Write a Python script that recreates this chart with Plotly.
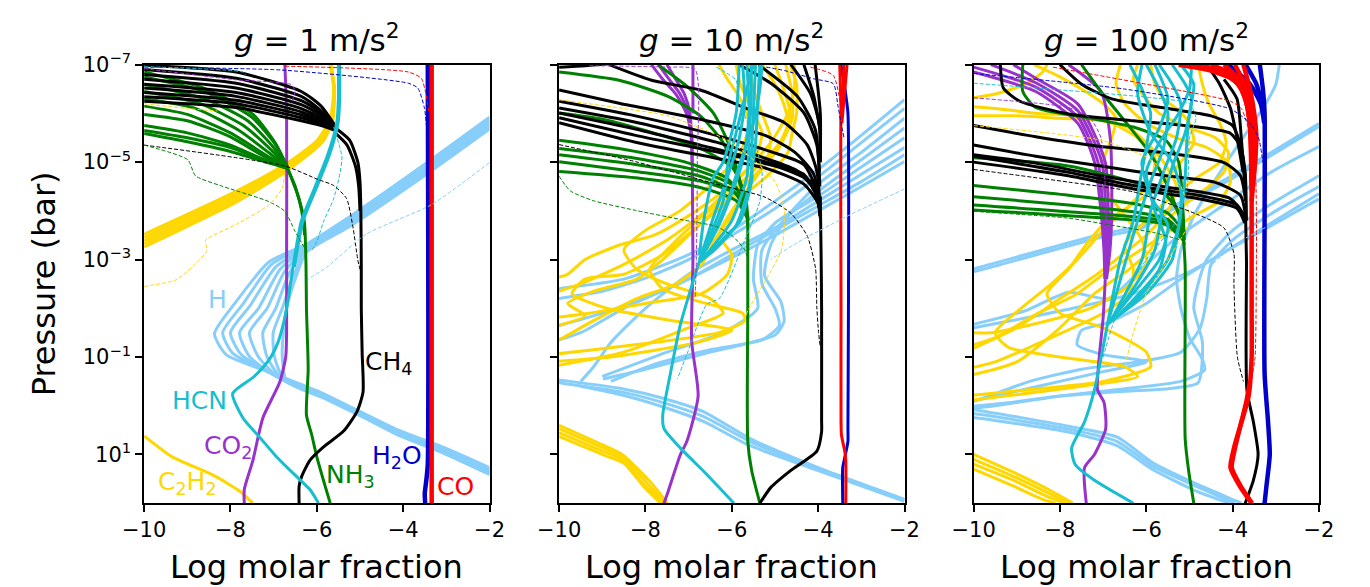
import plotly.graph_objects as go

# ---------------- axis / text data ----------------
PANEL_TITLES = ["<i>g</i> = 1 m/s<sup>2</sup>", "<i>g</i> = 10 m/s<sup>2</sup>", "<i>g</i> = 100 m/s<sup>2</sup>"]
X_TICKS = [-10, -8, -6, -4, -2]
X_TICK_LABELS = ["\u221210", "\u22128", "\u22126", "\u22124", "\u22122"]
Y_TICKS = [-7, -5, -3, -1, 1]
Y_TICK_LABELS = ["10<sup>\u22127</sup>", "10<sup>\u22125</sup>", "10<sup>\u22123</sup>", "10<sup>\u22121</sup>", "10<sup>1</sup>"]
X_LABEL = "Log molar fraction"
Y_LABEL = "Pressure (bar)"

# species labels in panel 1: (text, x, logP, species)
LABELS_G1 = [
    ("H", -8.30, -2.18, "H"),
    ("HCN", -8.72, -0.11, "HCN"),
    ("CO<sub>2</sub>", -8.06, 0.85, "CO2"),
    ("C<sub>2</sub>H<sub>2</sub>", -9.0, 1.59, "C2H2"),
    ("NH<sub>3</sub>", -5.23, 1.45, "NH3"),
    ("H<sub>2</sub>O", -4.14, 1.05, "H2O"),
    ("CO", -2.78, 1.65, "CO"),
    ("CH<sub>4</sub>", -4.33, -0.88, "CH4"),
]

# ---------------- g = 1 m/s2 : curves as (log molar fraction, log10 P[bar]) ----------------
G1_CO = [[(-3.34, -7.0), (-3.34, 2.0)]]
G1_H2O = [[(-3.43, -7.0), (-3.43, 1.2), (-3.46, 1.5), (-3.5, 1.8), (-3.49, 2.0)]]
G1_CH4 = [
    [(-10.0, -6.99), (-7.87, -6.85), (-6.36, -6.45), (-5.9, -6.15), (-5.6, -5.78)],
    [(-10.0, -6.9), (-7.87, -6.72), (-6.36, -6.35), (-5.9, -6.05), (-5.6, -5.76)],
    [(-10.0, -6.8), (-7.87, -6.62), (-6.36, -6.26), (-5.9, -6.0), (-5.6, -5.74)],
    [(-10.0, -6.7), (-7.87, -6.52), (-6.36, -6.18), (-5.9, -5.95), (-5.6, -5.72)],
    [(-10.0, -6.6), (-7.87, -6.43), (-6.36, -6.1), (-5.9, -5.9), (-5.6, -5.7)],
    [(-10.0, -6.52), (-7.87, -6.35), (-6.36, -6.03), (-5.9, -5.86), (-5.6, -5.7)],
    [(-10.0, -6.43), (-7.87, -6.27), (-6.36, -5.97), (-5.9, -5.82), (-5.6, -5.68)],
    [(-10.0, -6.34), (-7.87, -6.2), (-6.36, -5.91), (-5.9, -5.79), (-5.6, -5.68)],
    [(-10.0, -6.25), (-7.87, -6.12), (-6.36, -5.85), (-5.9, -5.75), (-5.6, -5.66)],
    [(-5.6, -5.62), (-5.3, -5.35), (-5.1, -4.9), (-5.03, -4.5), (-5.0, -4.0)],
    [(-5.6, -5.72), (-5.24, -5.45), (-5.05, -5.0), (-5.0, -4.6), (-4.98, -4.0), (-4.97, -2.85), (-4.97, -2.0),
     (-4.95, -1.08), (-4.93, -0.28), (-5.07, 0.12), (-5.38, 0.52), (-5.85, 0.85), (-6.16, 1.12),
     (-6.35, 1.45), (-6.41, 1.65), (-6.41, 2.0)],
]
G1_NH3 = [
    [(-10.0, -6.85), (-8.62, -6.52), (-7.49, -5.99), (-6.96, -5.39), (-6.7, -4.92)],
    [(-10.0, -6.75), (-8.6, -6.45), (-7.5, -5.92), (-6.95, -5.35), (-6.68, -4.9)],
    [(-10.0, -6.6), (-8.6, -6.3), (-7.6, -5.85), (-7.0, -5.3), (-6.68, -4.9)],
    [(-10.0, -6.45), (-8.7, -6.2), (-7.7, -5.75), (-7.0, -5.2), (-6.68, -4.9)],
    [(-10.0, -6.3), (-8.8, -6.1), (-7.8, -5.65), (-7.05, -5.15), (-6.7, -4.9)],
    [(-10.0, -6.15), (-9.0, -5.98), (-8.0, -5.6), (-7.1, -5.1), (-6.7, -4.9)],
    [(-10.0, -5.98), (-9.0, -5.85), (-8.0, -5.52), (-7.1, -5.05), (-6.7, -4.9)],
    [(-10.0, -5.75), (-9.0, -5.6), (-8.0, -5.35), (-7.1, -5.0), (-6.7, -4.88)],
    [(-10.0, -5.65), (-9.0, -5.5), (-8.0, -5.3), (-7.1, -5.0), (-6.7, -4.88)],
    [(-10.0, -5.59), (-9.0, -5.42), (-8.0, -5.22), (-7.1, -4.98), (-6.7, -4.88)],
    [(-6.7, -4.92), (-6.5, -4.5), (-6.35, -4.0), (-6.28, -3.5)],
    [(-6.7, -4.92), (-6.44, -4.32), (-6.29, -3.79), (-6.25, -2.85), (-6.24, -2.0), (-6.2, -0.75),
     (-6.24, 0.19), (-6.12, 0.59), (-6.0, 1.05), (-5.85, 1.52), (-5.69, 2.0)],
]
G1_HCN = [
    [(-5.50, -7.0), (-5.5, -6.3), (-5.54, -5.79), (-5.76, -5.12), (-6.06, -4.45), (-6.36, -3.79), (-6.55, -2.85),
     (-6.68, -2.1), (-6.77, -1.7), (-6.9, -1.3), (-7.1, -0.95), (-7.45, -0.6), (-7.95, -0.25), (-7.71, 0.25),
     (-7.32, 0.65), (-6.93, 1.05), (-6.39, 1.52), (-6.16, 1.72), (-5.96, 2.0)],
    [(-5.47, -7.0), (-5.47, -6.3), (-5.51, -5.79), (-5.72, -5.12), (-6.02, -4.45), (-6.32, -3.79), (-6.52, -2.85)],
]
G1_CO2 = [[(-6.74, -7.0), (-6.70, -6.0), (-6.70, -3.0), (-6.70, -1.5), (-6.72, -1.0), (-6.86, -0.48),
           (-7.25, 0.25), (-7.48, 1.12), (-7.68, 1.72), (-7.68, 2.0)]]
G1_C2H2 = [
    [(-10.0, -3.52), (-7.87, -4.4), (-6.74, -4.95), (-5.99, -5.45), (-5.69, -5.9), (-5.61, -6.5), (-5.69, -7.0)],
    [(-10.0, -3.455), (-7.87, -4.345), (-6.74, -4.91), (-5.96, -5.44), (-5.675, -5.89), (-5.6, -6.5), (-5.685, -7.0)],
    [(-10.0, -3.39), (-7.87, -4.29), (-6.74, -4.87), (-5.93, -5.43), (-5.66, -5.88), (-5.6, -6.5), (-5.68, -7.0)],
    [(-10.0, -3.325), (-7.87, -4.235), (-6.74, -4.83), (-5.9, -5.42), (-5.645, -5.87), (-5.595, -6.5), (-5.675, -7.0)],
    [(-10.0, -3.26), (-7.87, -4.18), (-6.74, -4.79), (-5.87, -5.41), (-5.63, -5.86), (-5.59, -6.5), (-5.67, -7.0)],
    [(-10.0, 0.62), (-9.35, 1.05), (-8.41, 1.42), (-7.79, 1.75), (-7.48, 2.0)],
]
G1_H = [
    [(-2.0, -5.92), (-3.51, -4.95), (-5.24, -3.88), (-6.24, -3.32), (-7.11, -2.95), (-7.9, -2.1), (-8.37, -1.48),
     (-8.1, -1.05), (-7.0, -0.66), (-6.0, -0.31), (-5.07, 0.09), (-4.14, 0.49), (-3.13, 0.83), (-2.0, 1.27)],
    [(-2.0, -5.88), (-3.51, -4.91), (-5.24, -3.85), (-6.24, -3.3), (-7.05, -2.9), (-7.7, -2.1), (-8.18, -1.5),
     (-7.95, -1.08), (-6.95, -0.62), (-5.97, -0.28), (-5.05, 0.11), (-4.13, 0.51), (-3.12, 0.86), (-2.0, 1.3)],
    [(-2.0, -5.85), (-3.51, -4.88), (-5.24, -3.82), (-6.24, -3.27), (-6.95, -2.85), (-7.55, -2.05), (-8.0, -1.5),
     (-7.75, -1.05), (-6.92, -0.6), (-5.95, -0.26), (-5.03, 0.13), (-4.12, 0.53), (-3.11, 0.88), (-2.0, 1.32)],
    [(-2.0, -5.81), (-3.51, -4.84), (-5.24, -3.79), (-6.24, -3.25), (-6.85, -2.8), (-7.35, -2.0), (-7.79, -1.5),
     (-7.55, -1.0), (-6.9, -0.58), (-5.93, -0.24), (-5.01, 0.15), (-4.11, 0.55), (-3.1, 0.9), (-2.0, 1.34)],
    [(-2.0, -5.78), (-3.51, -4.81), (-5.24, -3.76), (-6.24, -3.22), (-6.75, -2.75), (-7.15, -2.0), (-7.56, -1.5),
     (-7.35, -1.0), (-6.85, -0.56), (-5.9, -0.22), (-5.0, 0.17), (-4.1, 0.57), (-3.1, 0.92), (-2.0, 1.36)],
    [(-2.0, -5.74), (-3.51, -4.78), (-5.24, -3.73), (-6.24, -3.2), (-6.65, -2.7), (-6.95, -2.0), (-7.25, -1.5),
     (-7.15, -1.0), (-6.8, -0.54), (-5.88, -0.2), (-4.98, 0.19), (-4.09, 0.59), (-3.09, 0.94), (-2.0, 1.38)],
    [(-2.0, -5.71), (-3.51, -4.74), (-5.24, -3.7), (-6.24, -3.17), (-6.55, -2.65), (-6.8, -2.0), (-7.01, -1.5),
     (-6.98, -1.0), (-6.75, -0.52), (-5.86, -0.18), (-4.97, 0.21), (-4.08, 0.61), (-3.08, 0.96), (-2.0, 1.4)],
    [(-2.0, -5.68), (-3.51, -4.72), (-5.24, -3.68), (-6.24, -3.15), (-6.5, -2.6), (-6.7, -2.0), (-6.78, -1.45),
     (-6.8, -1.0), (-6.7, -0.5), (-5.85, -0.16), (-4.96, 0.22), (-4.07, 0.62), (-3.07, 0.97), (-2.0, 1.41)],
]
G1_DASH = {
    "CO": [[(-6.74, -6.97), (-3.88, -6.85), (-3.58, -6.72), (-3.47, -6.39), (-3.4, -6.0)]],
    "H2O": [[(-10.0, -6.95), (-6.81, -6.89), (-3.88, -6.62), (-3.66, -6.52), (-3.51, -6.12), (-3.45, -5.65)]],
    "CO2": [[(-10.0, -6.92), (-7.87, -6.69), (-6.59, -6.59), (-6.51, -6.45), (-6.6, -6.2)]],
    "HCN": [[(-10.0, -6.96), (-7.72, -6.85), (-7.64, -6.79)],
            [(-5.61, -5.72), (-5.42, -5.12), (-5.46, -4.79), (-5.61, -4.25), (-5.84, -3.79), (-5.99, -3.39), (-6.1, -3.2)]],
    "CH4": [[(-10.0, -5.35), (-6.74, -4.92), (-5.99, -4.65), (-5.61, -4.52), (-5.31, -4.25), (-5.16, -3.65),
             (-5.05, -2.99), (-5.0, -2.8)]],
    "NH3": [[(-10.0, -5.35), (-8.99, -5.05), (-8.81, -4.72), (-8.24, -4.52), (-7.11, -4.19), (-6.74, -3.99),
             (-6.51, -3.59), (-6.29, -3.25)]],
    "C2H2": [[(-10.0, -2.45), (-9.27, -2.58), (-8.88, -2.85), (-8.54, -3.19), (-8.58, -3.39), (-7.87, -3.72),
              (-7.11, -4.12), (-6.81, -4.45), (-6.74, -4.8)],
             [(-10.0, -6.2), (-9.0, -6.1), (-8.3, -6.05)]],
    "H": [[(-2.0, -4.99), (-3.36, -4.12), (-4.86, -3.52), (-5.76, -2.85), (-6.2, -2.6)]],
}

# ---------------- g = 10 m/s2 ----------------
G10_CO = [
    [(-3.40, -7.0), (-3.43, -6.5), (-3.47, -6.0), (-3.47, -2.0), (-3.47, 0.3), (-3.46, 0.6), (-3.38, 0.95),
     (-3.36, 1.13), (-3.36, 2.0)],
    [(-3.33, -7.0), (-3.38, -6.5), (-3.45, -5.8)],
    [(-3.5, -7.0), (-3.48, -6.4), (-3.46, -5.8)],
]
G10_H2O = [[(-3.47, -7.0), (-3.38, -6.5), (-3.31, -6.0), (-3.31, 0.5), (-3.31, 0.73), (-3.38, 1.05),
            (-3.43, 1.27), (-3.43, 2.0)]]
G10_CH4 = [
    [(-10.0, -6.95), (-9.4, -6.98), (-8.85, -7.02)],
    [(-8.84, -7.0), (-7.86, -6.68), (-6.73, -6.48), (-5.6, -6.08), (-4.78, -5.81), (-4.25, -5.35), (-4.03, -4.81), (-3.95, -4.01)],
    [(-10.0, -6.48), (-8.61, -6.21), (-6.73, -5.88), (-5.23, -5.55), (-4.55, -5.21), (-4.1, -4.75), (-3.96, -4.0)],
    [(-10.0, -6.25), (-8.23, -5.95), (-6.36, -5.55), (-5.08, -5.21), (-4.33, -4.95), (-4.03, -4.41), (-3.95, -3.9)],
    [(-10.0, -6.11), (-8.23, -5.82), (-6.36, -5.41), (-5.23, -5.08), (-4.48, -4.82), (-4.03, -4.35), (-3.95, -3.9)],
    [(-10.0, -6.01), (-8.23, -5.68), (-6.73, -5.35), (-5.23, -5.01), (-4.33, -4.75), (-4.03, -4.28), (-3.95, -3.9)],
    [(-10.0, -5.91), (-8.23, -5.55), (-6.36, -5.21), (-4.85, -4.88), (-4.1, -4.55), (-3.95, -3.9)],
    [(-10.0, -5.81), (-8.23, -5.41), (-6.36, -5.08), (-5.23, -4.88), (-4.33, -4.55), (-4.0, -4.15), (-3.95, -3.85)],
    [(-5.83, -7.0), (-5.08, -6.61), (-4.33, -6.01), (-4.03, -5.35), (-3.96, -4.5)],
    [(-5.38, -7.0), (-4.48, -6.35), (-4.07, -5.68), (-3.97, -4.8)],
    [(-4.63, -7.0), (-4.18, -6.41), (-3.98, -5.81), (-3.95, -5.0)],
    [(-4.33, -7.0), (-4.1, -6.35), (-3.96, -5.68)],
    [(-4.07, -7.0), (-3.95, -6.0), (-3.95, -5.0)],
    [(-3.95, -4.3), (-3.93, -3.0), (-3.92, -2.0), (-3.92, 0.3), (-3.92, 0.53), (-4.03, 0.93), (-4.64, 1.33),
     (-5.09, 1.67), (-5.35, 2.0)],
]
G10_NH3 = [
    [(-10.0, -6.85), (-8.61, -6.68), (-7.48, -6.35), (-6.73, -5.95), (-6.21, -5.41), (-5.91, -4.81), (-5.68, -4.15), (-5.63, -3.68)],
    [(-7.71, -7.0), (-7.03, -6.55), (-6.43, -6.01), (-6.06, -5.35), (-5.79, -4.55), (-5.64, -3.9)],
    [(-10.0, -6.01), (-8.99, -5.88), (-7.86, -5.61), (-6.73, -5.28), (-5.98, -4.88), (-5.68, -4.28), (-5.63, -3.8)],
    [(-10.0, -5.45), (-8.61, -5.28), (-7.11, -5.01), (-6.13, -4.68), (-5.7, -4.2), (-5.63, -3.8)],
    [(-10.0, -5.28), (-8.23, -5.08), (-6.73, -4.81), (-5.9, -4.48), (-5.64, -3.9)],
    [(-10.0, -5.15), (-8.23, -4.95), (-6.73, -4.71), (-5.95, -4.4), (-5.64, -3.9)],
    [(-10.0, -5.01), (-8.23, -4.81), (-6.73, -4.61), (-5.9, -4.35), (-5.64, -3.9)],
    [(-10.0, -4.81), (-8.23, -4.68), (-6.73, -4.48), (-5.9, -4.21), (-5.64, -3.85)],
    [(-5.63, -3.9), (-5.63, -3.0), (-5.63, -2.0), (-5.63, 0.73), (-5.54, 1.33), (-5.35, 2.0)],
]
G10_CO2 = [
    [(-7.86, -7.0), (-7.6, -6.7), (-7.3, -6.4), (-7.05, -6.0), (-6.95, -5.6), (-6.92, -5.0)],
    [(-7.7, -7.0), (-7.45, -6.7), (-7.2, -6.4), (-7.0, -6.0), (-6.93, -5.5)],
    [(-7.5, -7.0), (-7.3, -6.7), (-7.1, -6.4), (-6.97, -6.0), (-6.93, -5.5)],
    [(-6.9, -7.0), (-6.9, -6.0)],
    [(-6.92, -5.5), (-6.9, -3.0), (-6.93, -1.33), (-6.78, -0.2), (-7.04, 0.73), (-7.19, 1.0), (-7.49, 1.8), (-7.57, 2.0)],
]
G10_HCN = [
    [(-5.83, -7.0), (-5.9, -6.0), (-6.2, -5.0), (-6.43, -4.68), (-6.65, -3.8), (-6.75, -3.1)],
    [(-5.75, -7.0), (-5.7, -6.2), (-5.85, -5.4), (-6.1, -4.7), (-6.45, -3.8), (-6.72, -3.05)],
    [(-5.65, -7.0), (-5.6, -6.0), (-5.7, -5.2), (-5.9, -4.6), (-6.3, -3.7), (-6.7, -3.05)],
    [(-5.55, -7.0), (-5.55, -6.3), (-5.6, -5.5), (-5.65, -4.7), (-6.0, -3.8), (-6.5, -3.2), (-6.75, -2.95)],
    [(-5.45, -7.0), (-5.5, -6.0), (-5.55, -5.0), (-5.53, -4.68), (-5.8, -3.8), (-6.28, -3.35), (-6.72, -3.0)],
    [(-5.35, -7.0), (-5.4, -6.2), (-5.45, -5.4), (-5.6, -4.5), (-5.9, -3.7), (-6.4, -3.2), (-6.75, -2.95)],
    [(-5.3, -7.0), (-5.35, -6.5), (-5.5, -5.8), (-5.8, -5.0), (-6.1, -4.2), (-6.55, -3.3), (-6.76, -3.0)],
    [(-5.5, -7.0), (-5.65, -6.5), (-5.9, -5.6), (-6.1, -4.9), (-6.2, -4.2), (-6.55, -3.4), (-6.75, -3.0)],
    [(-6.74, -3.0), (-7.19, -1.67), (-7.42, -0.67), (-7.6, 0.2), (-7.57, 0.47), (-7.19, 0.87), (-6.59, 1.4), (-5.95, 2.0)],
]
G10_C2H2 = [
    [(-4.55, -7.0), (-4.55, -6.5), (-4.7, -6.0), (-5.1, -5.4), (-5.8, -4.7), (-6.6, -4.0), (-7.5, -3.4), (-8.5, -2.9), (-9.5, -2.5), (-10.2, -2.3)],
    [(-4.75, -7.0), (-4.6, -6.4), (-4.6, -5.9), (-4.9, -5.3), (-5.5, -4.7), (-6.3, -4.1), (-7.0, -3.5), (-7.6, -3.0),
     (-8.2, -2.6), (-9.2, -2.35), (-9.8, -2.1), (-9.4, -1.85), (-10.2, -1.6)],
    [(-5.0, -7.0), (-4.8, -6.5), (-4.65, -6.0), (-4.8, -5.5), (-5.3, -5.0), (-6.0, -4.4), (-6.8, -3.8), (-7.5, -3.2),
     (-7.9, -2.8), (-7.6, -2.4), (-6.6, -2.1), (-5.75, -1.9), (-5.69, -1.75), (-6.3, -1.5), (-7.8, -1.3), (-9.2, -1.15), (-10.2, -1.05)],
    [(-5.3, -7.0), (-5.0, -6.6), (-4.8, -6.2), (-4.7, -5.8), (-5.0, -5.2), (-5.6, -4.6), (-6.2, -4.1), (-6.9, -3.6),
     (-7.6, -3.1), (-8.5, -2.7), (-9.4, -2.6), (-9.7, -2.3), (-8.9, -2.0), (-7.4, -1.75), (-6.0, -1.55), (-6.8, -1.3), (-8.8, -1.0), (-10.2, -0.9)],
    [(-5.6, -7.0), (-5.5, -6.5), (-5.3, -6.0), (-5.1, -5.5), (-5.2, -5.0), (-5.6, -4.5), (-6.0, -4.0), (-6.3, -3.5),
     (-6.0, -3.1), (-6.1, -2.7), (-6.7, -2.3), (-8.0, -2.1), (-9.3, -1.9), (-10.2, -1.8)],
    [(-5.9, -7.0), (-5.8, -6.6), (-5.55, -6.1), (-5.3, -5.6), (-5.5, -5.0), (-6.2, -4.4), (-7.0, -3.9), (-7.8, -3.5),
     (-8.6, -3.3), (-9.4, -3.0), (-9.8, -2.7), (-10.2, -2.6)],
    [(-4.65, -7.0), (-4.5, -6.6), (-4.5, -6.0), (-4.6, -5.6), (-4.7, -5.2), (-5.2, -4.7), (-5.6, -4.4), (-6.0, -3.9),
     (-6.4, -3.4), (-6.7, -2.9), (-7.3, -2.5), (-8.2, -2.2), (-9.3, -1.7), (-9.9, -1.4), (-10.2, -1.3)],
    [(-6.3, -7.0), (-6.1, -6.7), (-5.8, -6.3), (-5.6, -5.8), (-5.8, -5.2), (-6.4, -4.6), (-7.2, -4.0), (-8.0, -3.6),
     (-8.5, -3.2), (-8.2, -2.8), (-7.5, -2.5), (-6.5, -2.2), (-6.2, -1.9), (-7.0, -1.6), (-8.5, -1.1), (-10.2, -0.8)],
    [(-10.0, 0.40), (-9.0, 0.80), (-8.54, 1.0), (-7.9, 1.55), (-7.49, 2.0)],
    [(-10.0, 0.47), (-9.0, 0.86), (-8.54, 1.05), (-7.95, 1.6), (-7.55, 2.0)],
    [(-10.0, 0.55), (-9.0, 0.93), (-8.54, 1.11), (-8.0, 1.65), (-7.6, 2.0)],
    [(-10.0, 0.63), (-9.0, 1.0), (-8.5, 1.18), (-8.0, 1.7), (-7.65, 2.0)],
]
G10_H = [
    [(-2.0, -6.28), (-3.0, -5.55), (-4.0, -4.85), (-5.0, -4.2), (-6.0, -3.6), (-7.0, -3.1), (-8.5, -2.6), (-10.0, -2.4), (-10.6, -2.3)],
    [(-2.0, -6.1), (-3.0, -5.4), (-4.0, -4.7), (-5.0, -4.05), (-6.0, -3.5), (-7.0, -3.0), (-8.0, -2.62), (-9.0, -2.35), (-10.0, -2.2), (-10.6, -2.1)],
    [(-2.0, -5.9), (-3.0, -5.2), (-4.0, -4.55), (-4.7, -3.9), (-5.1, -3.3), (-5.24, -2.67), (-4.86, -2.13),
     (-4.79, -1.73), (-5.0, -1.45), (-6.5, -1.1), (-8.0, -0.75), (-8.98, -0.55)],
    [(-2.0, -5.7), (-3.0, -5.05), (-4.0, -4.4), (-4.8, -3.8), (-5.3, -3.2), (-5.3, -2.5), (-5.0, -2.0), (-4.9, -1.65),
     (-5.3, -1.35), (-6.5, -1.15), (-7.8, -0.85), (-8.8, -0.5)],
    [(-2.0, -5.5), (-3.0, -4.9), (-4.0, -4.3), (-5.0, -3.75), (-5.4, -3.3), (-5.5, -2.6), (-5.4, -2.0), (-6.2, -1.5),
     (-7.5, -1.1), (-9.0, -0.6)],
    [(-2.0, -5.3), (-3.0, -4.75), (-4.0, -4.2), (-5.0, -3.65), (-6.0, -3.2), (-7.0, -2.7), (-8.0, -2.0), (-8.8, -1.3),
     (-9.2, -0.8), (-9.5, -0.5)],
    [(-2.0, -5.15), (-3.0, -4.6), (-4.0, -4.1), (-5.0, -3.6), (-6.0, -3.1), (-7.0, -2.6), (-8.5, -2.0), (-9.5, -1.5), (-10.6, -1.2)],
    [(-2.0, -5.01), (-3.0, -4.5), (-4.0, -4.0), (-5.0, -3.5), (-6.2, -2.95), (-7.5, -2.4), (-9.0, -1.9), (-10.6, -1.5)],
    [(-10.6, -0.6), (-10.0, -0.53), (-8.54, -0.35), (-7.57, -0.15), (-6.66, 0.12), (-5.54, 0.69), (-4.03, 1.26), (-2.0, 1.92)],
    [(-10.6, -0.54), (-10.0, -0.47), (-8.54, -0.28), (-7.57, -0.06), (-6.66, 0.22), (-5.54, 0.75), (-4.03, 1.29), (-2.0, 1.94)],
    [(-9.5, -0.4), (-8.54, -0.22), (-7.57, 0.03), (-6.66, 0.32), (-5.6, 0.81), (-4.03, 1.32), (-2.0, 1.96)],
]
G10_DASH = {
    "CO": [[(-4.18, -6.95), (-3.65, -6.78), (-3.5, -6.28), (-3.46, -5.8)]],
    "H2O": [[(-5.2, -6.95), (-4.78, -6.88), (-4.1, -6.71), (-3.65, -6.61), (-3.54, -6.15), (-3.46, -5.75), (-3.4, -5.5)]],
    "CO2": [[(-9.3, -6.98), (-7.5, -6.95), (-6.85, -6.9), (-6.8, -5.0), (-6.82, -3.0), (-6.85, -2.2)]],
    "HCN": [[(-6.36, -6.95), (-5.9, -6.68), (-5.85, -6.3), (-5.5, -5.5), (-5.3, -4.81), (-5.35, -4.2), (-5.7, -3.4),
             (-6.28, -2.21), (-6.58, -2.08), (-7.03, -1.08), (-7.26, -0.55)]],
    "CH4": [[(-10.0, -5.36), (-8.23, -5.01), (-6.36, -4.55), (-5.23, -4.28), (-4.63, -3.95), (-4.25, -3.48),
             (-4.06, -2.81), (-4.03, -2.01), (-3.99, -1.5), (-3.95, -1.2)]],
    "NH3": [[(-10.0, -4.71), (-9.74, -4.41), (-9.21, -4.21), (-8.23, -4.01), (-7.11, -3.81), (-6.36, -3.68),
             (-5.98, -3.48), (-5.7, -3.2), (-5.63, -3.0)]],
    "C2H2": [[(-10.0, -6.28), (-8.5, -6.1), (-7.48, -5.95), (-6.0, -5.4), (-5.0, -4.6), (-4.78, -4.0),
              (-4.85, -3.2), (-5.2, -2.6), (-5.6, -2.0), (-5.75, -1.7)]],
    "H": [[(-2.0, -4.45), (-3.35, -3.88), (-4.48, -3.35), (-5.1, -3.0)]],
}

# ---------------- g = 100 m/s2 ----------------
G100_H2O = [
    [(-3.37, -7.0), (-3.3, -6.5), (-3.26, -6.0), (-3.26, -0.67), (-3.18, 0.33), (-3.14, 1.0), (-3.22, 1.67), (-3.26, 2.0)],
    [(-4.1, -7.0), (-3.6, -6.6), (-3.35, -6.2), (-3.27, -5.8)],
    [(-3.7, -7.0), (-3.45, -6.6), (-3.3, -6.1)],
]
G100_CO = [
    [(-5.25, -7.0), (-4.6, -6.9), (-4.1, -6.75), (-3.87, -6.6), (-3.7, -6.3), (-3.6, -5.8), (-3.58, -5.3), (-3.56, -4.5)],
    [(-5.0, -7.0), (-4.4, -6.88), (-4.0, -6.7), (-3.8, -6.5), (-3.65, -6.1), (-3.58, -5.5), (-3.56, -4.6)],
    [(-4.8, -7.0), (-4.2, -6.85), (-3.9, -6.65), (-3.72, -6.35), (-3.62, -5.9), (-3.57, -5.35), (-3.56, -4.6)],
    [(-4.5, -7.0), (-4.0, -6.8), (-3.8, -6.55), (-3.65, -6.2), (-3.55, -5.6), (-3.55, -5.0), (-3.56, -4.5)],
    [(-4.2, -7.0), (-3.85, -6.7), (-3.68, -6.4), (-3.55, -5.9), (-3.5, -5.4), (-3.54, -4.8), (-3.56, -4.4)],
    [(-3.95, -7.0), (-3.72, -6.6), (-3.58, -6.2), (-3.48, -5.7), (-3.48, -5.0), (-3.55, -4.5)],
    [(-3.75, -7.0), (-3.6, -6.5), (-3.5, -6.0), (-3.45, -5.5), (-3.5, -4.8), (-3.56, -4.2)],
    [(-3.56, -4.5), (-3.56, -2.0), (-3.56, -1.0), (-3.63, -0.2), (-3.97, 0.87), (-4.05, 1.27), (-3.82, 1.67), (-3.56, 2.0)],
    [(-3.6, -0.5), (-3.68, -0.1), (-3.94, 0.85), (-4.02, 1.27), (-3.8, 1.67), (-3.55, 2.0)],
]
G100_CH4 = [
    [(-9.38, -7.0), (-9.31, -6.52), (-8.93, -6.25), (-7.8, -5.99), (-6.3, -5.85), (-4.8, -5.72), (-4.05, -5.59),
     (-3.82, -5.32), (-3.71, -4.79), (-3.68, -3.8)],
    [(-8.0, -7.0), (-7.5, -6.6), (-6.8, -6.3), (-5.5, -6.1), (-4.5, -5.95), (-4.0, -5.75), (-3.8, -5.3), (-3.7, -4.6)],
    [(-10.0, -5.75), (-8.56, -5.52), (-7.05, -5.32), (-5.55, -5.19), (-4.2, -4.99), (-3.82, -4.72), (-3.7, -4.2)],
    [(-10.0, -5.35), (-8.56, -5.12), (-7.05, -4.92), (-5.55, -4.72), (-4.42, -4.59), (-3.82, -4.32), (-3.7, -3.9)],
    [(-10.0, -5.15), (-8.56, -4.98), (-7.05, -4.72), (-5.55, -4.49), (-4.05, -4.25), (-3.72, -3.9)],
    [(-10.0, -5.12), (-7.8, -4.79), (-6.3, -4.52), (-4.8, -4.32), (-3.9, -4.12), (-3.72, -3.8)],
    [(-10.0, -5.0), (-7.8, -4.72), (-6.3, -4.45), (-4.8, -4.25), (-3.9, -4.05), (-3.72, -3.75)],
    [(-4.2, -6.7), (-3.9, -6.3), (-3.8, -5.5), (-3.72, -4.5)],
    [(-4.6, -7.0), (-4.3, -6.6), (-4.05, -6.1), (-3.9, -5.5), (-3.76, -4.8)],
    [(-3.7, -3.9), (-3.68, -3.0), (-3.67, -0.33), (-3.52, 0.33), (-3.41, 1.0), (-3.52, 1.53), (-3.71, 2.0)],
]
G100_NH3 = [
    [(-8.86, -7.0), (-8.86, -6.45), (-8.56, -6.12), (-7.43, -5.92), (-6.3, -5.72), (-5.55, -5.45), (-5.25, -5.0),
     (-5.15, -4.0), (-5.12, -3.4)],
    [(-7.5, -7.0), (-7.05, -6.45), (-6.45, -5.79), (-5.92, -5.19), (-5.55, -4.59), (-5.25, -3.92), (-5.12, -3.3)],
    [(-10.0, -5.09), (-7.8, -4.92), (-6.3, -4.59), (-5.55, -4.32), (-5.2, -3.9), (-5.12, -3.5)],
    [(-10.0, -4.52), (-7.8, -4.32), (-6.3, -4.15), (-5.5, -3.95), (-5.15, -3.6)],
    [(-10.0, -4.29), (-7.8, -4.12), (-6.3, -3.98), (-5.5, -3.82), (-5.15, -3.5)],
    [(-10.0, -4.12), (-7.8, -3.98), (-5.55, -3.78), (-5.15, -3.45)],
    [(-10.0, -4.02), (-7.8, -3.9), (-5.55, -3.72), (-5.15, -3.4)],
    [(-5.15, -3.6), (-5.1, -2.85), (-5.1, 0.67), (-5.02, 1.33), (-4.9, 2.0)],
]
G100_CO2 = [
    [(-10.0, -6.85), (-8.56, -6.45), (-7.58, -5.79), (-7.2, -5.0), (-7.05, -4.0), (-6.98, -3.2), (-6.96, -2.6)],
    [(-10.0, -6.95), (-8.56, -6.54), (-7.58, -5.92), (-7.12, -5.0), (-7.0, -4.0), (-6.95, -3.2), (-6.95, -2.6)],
    [(-9.6, -7.0), (-8.56, -6.63), (-7.58, -6.05), (-7.03, -5.0), (-6.94, -4.0), (-6.92, -3.2), (-6.94, -2.6)],
    [(-9.08, -7.0), (-8.56, -6.72), (-7.58, -6.19), (-6.95, -5.0), (-6.88, -4.0), (-6.88, -3.2), (-6.93, -2.6)],
    [(-7.8, -7.0), (-7.05, -6.45), (-6.83, -5.45), (-6.8, -4.0), (-6.84, -3.2), (-6.92, -2.6)],
    [(-6.95, -2.6), (-7.0, -1.8), (-7.09, -1.0), (-7.13, -0.33), (-6.98, -0.07), (-6.94, 0.47), (-7.2, 1.0),
     (-7.43, 1.27), (-7.39, 2.0)],
]
G100_HCN = [
    [(-6.38, -7.0), (-6.1, -6.5), (-5.9, -6.0), (-6.0, -5.3), (-6.13, -4.68), (-6.3, -3.8), (-6.6, -3.0), (-6.9, -1.67)],
    [(-6.0, -7.0), (-5.7, -6.5), (-5.5, -6.0), (-5.6, -5.3), (-5.9, -4.6), (-6.2, -3.8), (-6.5, -2.9), (-6.9, -1.67)],
    [(-5.7, -7.0), (-5.4, -6.6), (-5.2, -6.2), (-5.3, -5.5), (-5.6, -4.8), (-5.9, -4.0), (-6.1, -3.0), (-6.85, -1.7)],
    [(-5.4, -7.0), (-5.1, -6.6), (-4.95, -6.3), (-5.1, -5.6), (-5.4, -4.9), (-5.6, -4.2), (-5.8, -3.2), (-6.3, -2.4), (-6.9, -1.67)],
    [(-5.2, -7.0), (-4.9, -6.6), (-5.0, -6.0), (-5.07, -5.3), (-5.1, -4.68), (-5.2, -4.0), (-5.4, -3.0), (-6.0, -2.3), (-6.88, -1.7)],
    [(-4.95, -7.0), (-5.0, -6.5), (-5.25, -6.0), (-5.7, -5.4), (-6.0, -4.8), (-5.8, -4.0), (-5.55, -3.4), (-5.7, -2.8), (-6.6, -1.9)],
    [(-6.1, -7.0), (-6.2, -6.4), (-5.9, -5.6), (-5.4, -5.0), (-5.2, -4.4), (-5.22, -3.8), (-5.5, -3.0), (-6.2, -2.2), (-6.9, -1.67)],
    [(-5.8, -7.0), (-5.5, -6.3), (-5.7, -5.7), (-6.1, -5.0), (-5.9, -4.3), (-5.5, -3.7), (-5.7, -3.0), (-6.5, -2.1), (-6.9, -1.67)],
    [(-6.9, -1.67), (-7.2, -0.33), (-7.43, 0.33), (-7.73, 0.87), (-7.65, 1.2), (-7.2, 1.53), (-6.3, 2.0)],
]
G100_C2H2 = [
    [(-10.2, -6.3), (-9.5, -6.4), (-8.8, -6.6), (-8.4, -6.85), (-8.3, -7.0)],
    [(-10.2, -5.95), (-9.0, -5.95), (-8.0, -5.9), (-7.0, -5.85), (-6.4, -5.7), (-6.0, -5.4), (-5.6, -5.0), (-5.3, -4.5),
     (-5.5, -4.0), (-6.0, -3.5), (-6.7, -3.0), (-7.3, -2.6), (-8.0, -2.2), (-9.0, -1.6), (-10.2, -1.1)],
    [(-6.6, -7.0), (-6.7, -6.6), (-6.5, -6.2), (-6.0, -5.8), (-5.3, -5.5), (-4.6, -5.3), (-4.12, -5.0), (-4.05, -4.6),
     (-4.3, -4.2), (-4.9, -3.9), (-5.6, -3.5), (-6.3, -3.1), (-7.0, -2.7), (-7.6, -2.3), (-8.5, -1.9), (-9.5, -1.4), (-10.2, -1.2)],
    [(-6.2, -7.0), (-6.3, -6.7), (-6.1, -6.4), (-5.7, -6.0), (-5.0, -5.7), (-4.4, -5.5), (-4.1, -5.2), (-4.2, -4.8),
     (-4.7, -4.4), (-5.3, -4.0), (-5.7, -3.6), (-5.9, -3.2), (-6.4, -2.8), (-7.2, -2.3), (-8.0, -1.6), (-9.0, -0.9), (-10.2, -0.6)],
    [(-5.9, -7.0), (-5.8, -6.6), (-5.6, -6.3), (-5.3, -6.1), (-5.0, -5.8), (-4.9, -5.4), (-5.2, -5.0), (-5.6, -4.6),
     (-6.2, -4.2), (-6.9, -3.8), (-7.4, -3.3), (-7.8, -2.8), (-8.3, -2.3), (-8.0, -1.9), (-7.0, -1.6), (-6.0, -1.1),
     (-5.9, -0.8), (-7.0, -0.5), (-8.5, -0.35), (-10.2, -0.2)],
    [(-10.2, -6.15), (-9.5, -6.1), (-8.5, -6.0), (-7.5, -5.95), (-6.8, -5.8), (-6.2, -5.5), (-5.8, -5.1), (-5.9, -4.6),
     (-6.4, -4.1), (-7.0, -3.6), (-7.6, -3.0), (-8.2, -2.5), (-8.9, -2.0), (-9.5, -1.5), (-9.2, -1.2), (-8.0, -1.0),
     (-6.5, -0.8), (-6.2, -0.6), (-7.5, -0.4), (-10.2, -0.1)],
    [(-8.6, -7.0), (-8.0, -6.75), (-7.5, -6.5), (-7.0, -6.2), (-6.7, -5.9), (-6.8, -5.5), (-7.0, -5.0), (-6.9, -4.4),
     (-6.5, -3.9), (-6.1, -3.4), (-6.0, -2.9), (-6.5, -2.4), (-7.3, -2.0), (-8.5, -1.7), (-9.6, -1.5), (-10.2, -1.5)],
    [(-4.8, -7.0), (-4.7, -6.6), (-4.55, -6.2), (-4.3, -5.8), (-4.15, -5.4), (-4.3, -5.0), (-4.8, -4.7), (-5.4, -4.3),
     (-6.0, -3.8), (-6.5, -3.3), (-6.3, -2.8), (-6.4, -2.3), (-7.0, -1.9), (-8.2, -1.4), (-9.5, -0.9), (-10.2, -0.75)],
    [(-10.0, 1.0), (-9.0, 1.4), (-8.2, 1.75), (-7.7, 2.0)],
    [(-10.0, 1.1), (-9.0, 1.48), (-8.25, 1.8), (-7.8, 2.0)],
    [(-10.0, 1.2), (-9.0, 1.56), (-8.3, 1.86), (-7.9, 2.0)],
    [(-10.0, 1.3), (-9.1, 1.64), (-8.4, 1.92), (-8.1, 2.0)],
]
G100_H = [
    [(-2.92, -7.0), (-3.0, -6.6), (-3.29, -6.12), (-4.05, -5.12), (-4.5, -4.5), (-4.9, -3.9),
     (-5.2, -3.2), (-5.3, -2.6), (-5.2, -2.0), (-5.0, -1.4), (-4.7, -0.95), (-4.65, -0.73), (-5.2, -0.5),
     (-6.5, -0.35), (-8.0, -0.2), (-9.5, 0.0), (-10.5, 0.1)],
    [(-2.0, -5.79), (-3.1, -5.2), (-4.24, -4.61), (-5.37, -4.1), (-6.12, -3.7), (-7.05, -3.52), (-9.83, -2.85), (-10.5, -2.7)],
    [(-2.0, -5.73), (-3.1, -5.14), (-4.24, -4.55), (-5.37, -4.04), (-6.12, -3.64), (-7.05, -3.46), (-9.83, -2.79), (-10.5, -2.65)],
    [(-2.0, -5.32), (-3.1, -4.8), (-4.24, -4.1), (-5.37, -3.4), (-6.12, -2.8), (-6.88, -2.2), (-7.8, -2.33),
     (-8.8, -1.95), (-10.0, -1.67), (-10.5, -1.55)],
    [(-2.0, -4.72), (-3.0, -4.2), (-4.0, -3.6), (-4.6, -3.0), (-4.8, -2.5), (-4.9, -2.0), (-4.7, -1.3), (-4.8, -0.47),
     (-5.5, -0.35), (-6.5, -0.3), (-8.0, -0.2), (-9.3, -0.05), (-10.5, 0.05)],
    [(-2.0, -4.5), (-3.0, -4.0), (-4.0, -3.4), (-4.5, -2.9), (-4.6, -2.2), (-4.75, -1.6), (-5.2, -1.1), (-6.2, -0.9),
     (-7.5, -0.75), (-8.7, -0.5), (-9.8, -0.15), (-10.5, 0.05)],
    [(-2.0, -4.35), (-3.2, -3.7), (-4.3, -3.1), (-5.2, -2.6), (-6.0, -2.1), (-6.9, -1.7), (-7.5, -1.55), (-7.6, -1.25),
     (-7.0, -1.05), (-6.0, -0.9), (-7.0, -0.7), (-8.5, -0.4), (-10.5, 0.0)],
    [(-2.0, -4.25), (-3.5, -3.5), (-5.0, -2.75), (-6.3, -2.3), (-7.7, -2.0), (-8.8, -1.8), (-10.0, -1.6), (-10.5, -1.5)],
    [(-10.5, 0.04), (-10.0, 0.08), (-7.8, 0.42), (-6.68, 0.64), (-5.85, 1.17), (-4.8, 1.62), (-3.9, 1.96), (-3.8, 2.0)],
    [(-10.5, 0.12), (-10.0, 0.16), (-7.8, 0.48), (-6.68, 0.73), (-5.85, 1.24), (-4.8, 1.67), (-3.95, 2.0)],
    [(-10.5, 0.2), (-10.0, 0.24), (-7.8, 0.54), (-6.68, 0.82), (-5.85, 1.31), (-4.9, 1.73), (-4.08, 2.0)],
]
G100_DASH = {
    "CO": [[(-8.16, -6.95), (-6.0, -6.6), (-4.05, -6.25), (-3.8, -6.1), (-3.5, -5.2), (-3.45, -4.0), (-3.45, -3.0),
            (-3.48, -1.0), (-3.55, -0.6)]],
    "H2O": [[(-10.0, -6.82), (-6.5, -6.5), (-4.05, -6.09), (-3.6, -5.8), (-3.4, -5.5), (-3.3, -5.0)]],
    "HCN": [[(-10.0, -6.62), (-5.85, -6.32), (-5.0, -6.2), (-4.85, -5.9), (-5.0, -5.5), (-5.05, -4.5), (-5.3, -3.8),
             (-6.0, -3.0), (-6.5, -2.3), (-6.8, -1.6), (-7.0, -1.0)]],
    "CO2": [[(-10.0, -6.32), (-7.8, -6.12), (-7.3, -5.9), (-7.05, -5.5), (-6.95, -4.5), (-6.92, -3.5)]],
    "C2H2": [[(-10.0, -5.75), (-7.05, -5.45), (-6.0, -5.1), (-5.2, -4.5), (-5.0, -3.8), (-5.5, -3.0), (-6.0, -2.3),
              (-6.3, -1.5), (-6.5, -0.8)]],
    "CH4": [[(-10.0, -4.85), (-7.8, -4.59), (-6.3, -4.39), (-4.8, -3.92), (-4.2, -3.65), (-3.97, -3.12),
             (-3.97, -2.5), (-3.89, -1.0), (-3.75, -0.5)]],
    "NH3": [[(-10.0, -3.99), (-7.8, -3.85), (-6.9, -3.72), (-5.8, -3.55), (-5.2, -3.4)]],
    "H": [[(-2.0, -4.21), (-3.87, -3.35), (-4.6, -2.8)]],
}

# ---------------- styling ----------------
COLORS = {"CO": "#ff0000", "H2O": "#0000cd", "CH4": "#000000", "NH3": "#008000", "HCN": "#17becf",
          "CO2": "#9932cc", "C2H2": "#ffd700", "H": "#87cefa"}
FONT = "DejaVu Sans, Verdana, sans-serif"
W, H = 1370, 587
X_DOMAINS = [(125.5 / W, 480.5 / W), (552.0 / W, 907.0 / W), (978.0 / W, 1333.0 / W)]
Y_DOMAIN = (1 - 501.0 / H, 1 - 51.0 / H)

PANELS = [
    {"H": G1_H, "C2H2": G1_C2H2, "CO2": G1_CO2, "NH3": G1_NH3, "CH4": G1_CH4, "HCN": G1_HCN, "H2O": G1_H2O, "CO": G1_CO},
    {"H": G10_H, "C2H2": G10_C2H2, "CO2": G10_CO2, "NH3": G10_NH3, "CH4": G10_CH4, "HCN": G10_HCN, "H2O": G10_H2O, "CO": G10_CO},
    {"H": G100_H, "C2H2": G100_C2H2, "CO2": G100_CO2, "NH3": G100_NH3, "CH4": G100_CH4, "HCN": G100_HCN, "H2O": G100_H2O, "CO": G100_CO},
]
DASHES = [G1_DASH, G10_DASH, G100_DASH]
ORDER = ["H", "C2H2", "CO2", "NH3", "CH4", "HCN", "H2O", "CO"]

fig = go.Figure()


def add_curves(curves, color, width, idx, dash=None):
    ax = "" if idx == 0 else str(idx + 1)
    for c in curves:
        fig.add_trace(go.Scatter(
            x=[p[0] for p in c], y=[p[1] for p in c], mode="lines",
            line=dict(color=color, width=width, dash=dash, shape="spline", smoothing=0.6),
            xaxis="x" + ax, yaxis="y" + ax, showlegend=False, hoverinfo="skip"))


for i, panel in enumerate(PANELS):
    for sp in ORDER:
        w = 3
        if sp in ("CO", "H2O") and i != 1:
            w = 4.5
        add_curves(panel[sp], COLORS[sp], w, i)
    for sp, curves in DASHES[i].items():
        add_curves(curves, COLORS[sp], 1, i, dash="4px,2px")

layout = dict(width=W, height=H, margin=dict(l=0, r=0, t=0, b=0),
              paper_bgcolor="white", plot_bgcolor="white", showlegend=False,
              font=dict(family=FONT, color="black"))
annotations = []
for i in range(3):
    sfx = "" if i == 0 else str(i + 1)
    layout["xaxis" + sfx] = dict(
        domain=X_DOMAINS[i], range=[-10, -2], anchor="y" + sfx, tickmode="array",
        tickvals=X_TICKS, ticktext=X_TICK_LABELS, ticks="outside", ticklen=7, tickwidth=1.6,
        tickcolor="black", showline=True, mirror=True, linecolor="black", linewidth=1.6,
        showgrid=False, zeroline=False, tickfont=dict(size=21, family=FONT, color="black"))
    layout["yaxis" + sfx] = dict(
        domain=Y_DOMAIN, range=[2, -7], anchor="x" + sfx, tickmode="array",
        tickvals=Y_TICKS, ticktext=Y_TICK_LABELS, showticklabels=(i == 0), ticks="outside",
        ticklen=7, tickwidth=1.6, tickcolor="black", showline=True, mirror=True,
        linecolor="black", linewidth=1.6, showgrid=False, zeroline=False,
        tickfont=dict(size=21, family=FONT, color="black"))
    xc = (X_DOMAINS[i][0] + X_DOMAINS[i][1]) / 2
    annotations.append(dict(text=PANEL_TITLES[i], x=xc, y=1 - 24.0 / H, xref="paper", yref="paper",
                            showarrow=False, xanchor="center", yanchor="middle",
                            font=dict(size=31, family=FONT, color="black")))
    annotations.append(dict(text=X_LABEL, x=xc, y=1 - 566.0 / H, xref="paper", yref="paper",
                            showarrow=False, xanchor="center", yanchor="middle",
                            font=dict(size=32, family=FONT, color="black")))

annotations.append(dict(text=Y_LABEL, x=23.0 / W, y=(Y_DOMAIN[0] + Y_DOMAIN[1]) / 2, xref="paper", yref="paper",
                        showarrow=False, textangle=-90, xanchor="center", yanchor="middle",
                        font=dict(size=32, family=FONT, color="black")))
for text, lx, ly, sp in LABELS_G1:
    annotations.append(dict(text=text, x=lx, y=ly, xref="x", yref="y", showarrow=False,
                            xanchor="center", yanchor="middle",
                            font=dict(size=25, family=FONT, color=COLORS[sp])))
layout["annotations"] = annotations
fig.update_layout(**layout)
fig.write_html("out.html", config={"displayModeBar": False},
               post_script="document.body.style.margin='0px';document.body.style.overflow='hidden';")
